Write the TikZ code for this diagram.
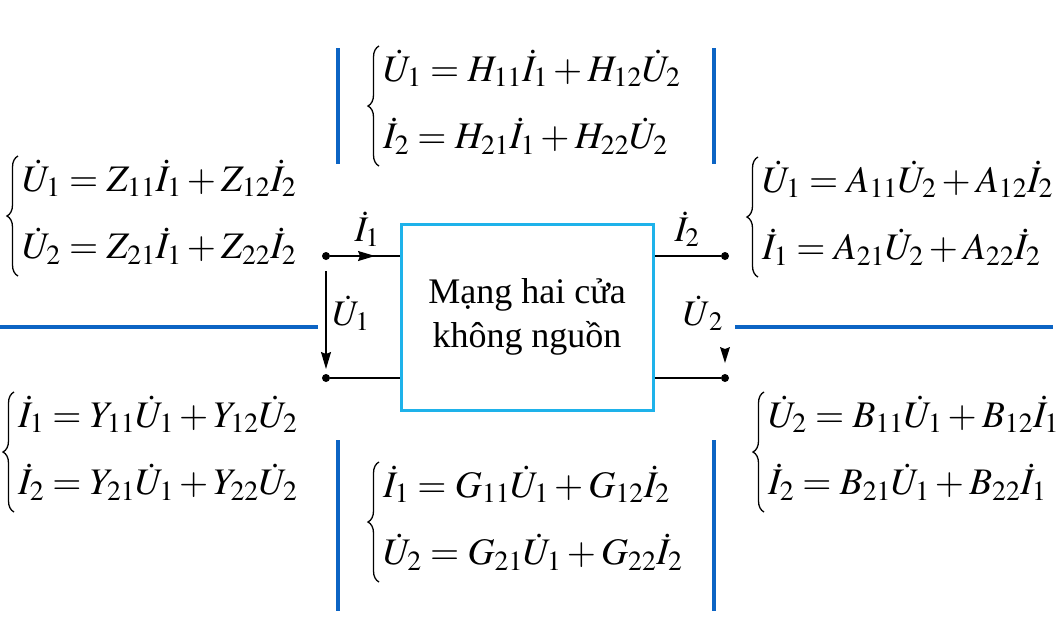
\documentclass[tikz,border=0pt]{standalone}
\usepackage{amsmath}
\usepackage{mathptmx}
\usepackage{fontspec}
\setmainfont{Liberation Serif}
\usetikzlibrary{arrows.meta,decorations.pathreplacing}
\definecolor{boxblue}{RGB}{30,178,234}
\definecolor{divblue}{RGB}{12,100,196}
\newcommand{\eqsys}[2]{$\begin{array}{@{}l@{}}#1\\[23pt]#2\end{array}$}
\begin{document}
\begin{tikzpicture}[x=1pt,y=-1pt,
  eqn/.style={anchor=west, inner sep=0pt, font=\fontsize{37.5}{44}\selectfont},
  lbl/.style={inner sep=0pt, font=\fontsize{36}{40}\selectfont},
  brc/.style={line width=1.3pt, decorate, decoration={brace, amplitude=11pt, aspect=0.5}},
  divline/.style={draw=divblue, line width=4pt},
  wire/.style={line width=1.2pt},
  term/.style={circle, fill, inner sep=0pt, minimum size=8pt},
  arr/.style={wire, -{Stealth[length=17pt,width=10pt,inset=2pt]}}]
\useasboundingbox (0,0) rectangle (1062,630);
% dividers
\draw[divline] (0,327) -- (318,327);
\draw[divline] (735,327) -- (1053,327);
\draw[divline] (338,48) -- (338,164);
\draw[divline] (714,48) -- (714,164);
\draw[divline] (338,440) -- (338,611);
\draw[divline] (714,440) -- (714,611);
% box
\node[draw=boxblue, line width=3pt, minimum width=252pt, minimum height=186pt,
      align=center, font=\fontsize{36}{44}\selectfont] (net) at (527,317)
      {Mạng hai cửa\\không nguồn};
% terminals
\node[term] (t1) at (326,256) {};
\node[term] (t2) at (326,378) {};
\node[term] (t3) at (725,256) {};
\node[term] (t4) at (725,378) {};
\draw[wire] (t1) -- (t1 -| net.west);
\draw[wire] (t2) -- (t2 -| net.west);
\draw[wire] (t3) -- (t3 -| net.east);
\draw[wire] (t4) -- (t4 -| net.east);
\coordinate (a1) at (375,256);
\draw[arr] (t1) -- (a1);
\coordinate (u1s) at (326,271);
\coordinate (u1e) at (326,369);
\draw[arr] (u1s) -- (u1e);
% lone arrowhead of U2
\coordinate (u2e) at (725,363);
\fill (u2e) -- ++(-5,-16) -- ++(5,2) -- ++(5,-2) -- cycle;
% labels
\node[lbl] (li1) at (367,229) {$\dot I_1$};
\node[lbl] (lu1) at (351,313) {$\dot U_1$};
\node[lbl] (li2) at (687,229) {$\dot I_2$};
\node[lbl] (lu2) at (703,313) {$\dot U_{\,2}$};
% equations
\node[eqn] (eqZ) at (22,216) {\eqsys{\dot U_1 = Z_{11}\dot I_1 + Z_{12}\dot I_2}{\dot U_2 = Z_{21}\dot I_1 + Z_{22}\dot I_2}};
\node[eqn] (eqH) at (383,106) {\eqsys{\dot U_1 = H_{11}\dot I_1 + H_{12}\dot U_2}{\dot I_2 = H_{21}\dot I_1 + H_{22}\dot U_2}};
\node[eqn] (eqA) at (762,217) {\eqsys{\dot U_1 = A_{11}\dot U_2 + A_{12}\dot I_2}{\dot I_1 = A_{21}\dot U_2 + A_{22}\dot I_2}};
\node[eqn] (eqY) at (18,452) {\eqsys{\dot I_1 = Y_{11}\dot U_1 + Y_{12}\dot U_2}{\dot I_2 = Y_{21}\dot U_1 + Y_{22}\dot U_2}};
\node[eqn] (eqG) at (383,522) {\eqsys{\dot I_1 = G_{11}\dot U_1 + G_{12}\dot I_2}{\dot U_2 = G_{21}\dot U_1 + G_{22}\dot I_2}};
\node[eqn] (eqB) at (768,452) {\eqsys{\dot U_2 = B_{11}\dot U_1 + B_{12}\dot I_1}{\dot I_2 = B_{21}\dot U_1 + B_{22}\dot I_1}};
% braces
\foreach \e in {eqZ,eqH,eqA,eqY,eqG,eqB}{
  \draw[brc] ([xshift=-4pt,yshift=-4pt]\e.south west) -- ([xshift=-4pt,yshift=4pt]\e.north west);
}
\end{tikzpicture}
\end{document}
